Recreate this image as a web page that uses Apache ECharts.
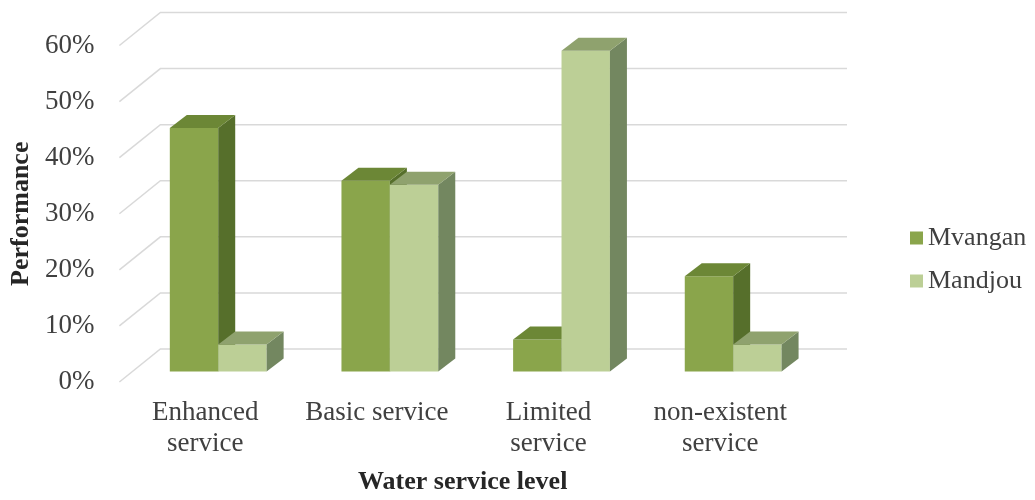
<!DOCTYPE html>
<html>
<head>
<meta charset="utf-8">
<script src="https://cdn.jsdelivr.net/npm/echarts@6/dist/echarts.min.js"></script>
<style>
  html, body { margin: 0; padding: 0; background: #ffffff; }
  #chart { width: 1035px; height: 500px; }
</style>
</head>
<body>
<div id="chart"></div>
<script>
// Water service level performance by commune (percent)
var categories = ['Enhanced\nservice', 'Basic service', 'Limited\nservice', 'non-existent\nservice'];
var mvangan = [43.4, 34.0, 5.7, 17.0];
var mandjou = [4.8, 33.3, 57.2, 4.8];
var percentTicks = [0, 10, 20, 30, 40, 50, 60];
var seriesNames = ['Mvangan', 'Mandjou'];

// Oblique projection: full floor depth, where the bars sit, and bar thickness
var WALL_DX = 41, WALL_DY = -33;
var BAR_OFF_DX = 13, BAR_OFF_DY = -10.5;
var BAR_DX = 17, BAR_DY = -13;
var BAR_FRACTION = 0.282;

var faces = [
  { front: '#8aa54b', top: '#6c8736', side: '#566f2b' },
  { front: '#bccf96', top: '#8fa26e', side: '#738760' }
];

var FONT = "'Liberation Serif', 'Times New Roman', serif";

// Left wall diagonals and back wall horizontals for each tick value
function gridRender(params, api) {
  var cs = params.coordSys;
  var v = api.value(1);
  var y = api.coord([0, v])[1];
  var x0 = cs.x;
  return {
    type: 'polyline',
    shape: {
      points: [
        [x0, y],
        [x0 + WALL_DX, y + WALL_DY],
        [x0 + cs.width + WALL_DX, y + WALL_DY]
      ]
    },
    style: { stroke: '#d9d9d9', lineWidth: 1.5, fill: null }
  };
}

// Box-shaped column: front face, right side face, top face
function barRender(seriesIdx) {
  return function (params, api) {
    var cat = api.value(0);
    var val = api.value(1);
    var band = api.size([1, 0])[0];
    var bw = band * BAR_FRACTION;
    var base = api.coord([cat, 0]);
    var topPt = api.coord([cat, val]);
    var L = base[0] - bw + seriesIdx * bw + BAR_OFF_DX;
    var R = L + bw;
    var yb = base[1] + BAR_OFF_DY;
    var yt = topPt[1] + BAR_OFF_DY;
    var c = faces[seriesIdx];
    return {
      type: 'group',
      children: [
        {
          type: 'rect',
          shape: { x: L, y: yt, width: bw, height: yb - yt },
          style: { fill: c.front }
        },
        {
          type: 'polygon',
          shape: { points: [[R, yt], [R + BAR_DX, yt + BAR_DY], [R + BAR_DX, yb + BAR_DY], [R, yb]] },
          style: { fill: c.side }
        },
        {
          type: 'polygon',
          shape: { points: [[L, yt], [L + BAR_DX, yt + BAR_DY], [R + BAR_DX, yt + BAR_DY], [R, yt]] },
          style: { fill: c.top }
        }
      ]
    };
  };
}

function toPairs(arr) {
  return arr.map(function (v, i) { return [i, v]; });
}

var chart = echarts.init(document.getElementById('chart'), null, { renderer: 'canvas' });

chart.setOption({
  animation: false,
  backgroundColor: '#ffffff',
  grid: { left: 117, right: 229, top: 45.5, bottom: 112, containLabel: false },
  legend: {
    orient: 'vertical',
    left: 905,
    top: 220,
    itemWidth: 13,
    itemHeight: 13,
    itemGap: 17,
    icon: 'rect',
    data: seriesNames,
    textStyle: { fontFamily: FONT, fontSize: 26, color: '#404040' }
  },
  xAxis: {
    type: 'category',
    data: categories,
    axisLine: { show: false },
    axisTick: { show: false },
    splitLine: { show: false },
    axisLabel: {
      interval: 0,
      margin: 15,
      fontFamily: FONT,
      fontSize: 27,
      lineHeight: 31,
      color: '#404040'
    },
    name: 'Water service level',
    nameLocation: 'middle',
    nameGap: 87,
    nameTextStyle: { fontFamily: FONT, fontSize: 26, fontWeight: 'bold', color: '#262626' }
  },
  yAxis: {
    type: 'value',
    min: 0,
    max: 60,
    interval: 10,
    axisLine: { show: false },
    axisTick: { show: false },
    splitLine: { show: false },
    axisLabel: {
      formatter: '{value}%',
      margin: 25,
      fontFamily: FONT,
      fontSize: 27,
      color: '#404040'
    },
    name: 'Performance',
    nameLocation: 'middle',
    nameGap: 85,
    nameTextStyle: { fontFamily: FONT, fontSize: 26, fontWeight: 'bold', color: '#262626' }
  },
  series: [
    {
      type: 'custom',
      name: 'walls',
      silent: true,
      z: 1,
      clip: false,
      renderItem: gridRender,
      encode: { x: 0, y: 1 },
      data: percentTicks.map(function (t) { return [0, t]; })
    },
    {
      type: 'custom',
      name: seriesNames[0],
      z: 2,
      clip: false,
      itemStyle: { color: faces[0].front },
      renderItem: barRender(0),
      encode: { x: 0, y: 1 },
      data: toPairs(mvangan)
    },
    {
      type: 'custom',
      name: seriesNames[1],
      z: 3,
      clip: false,
      itemStyle: { color: faces[1].front },
      renderItem: barRender(1),
      encode: { x: 0, y: 1 },
      data: toPairs(mandjou)
    }
  ]
});
</script>
</body>
</html>
